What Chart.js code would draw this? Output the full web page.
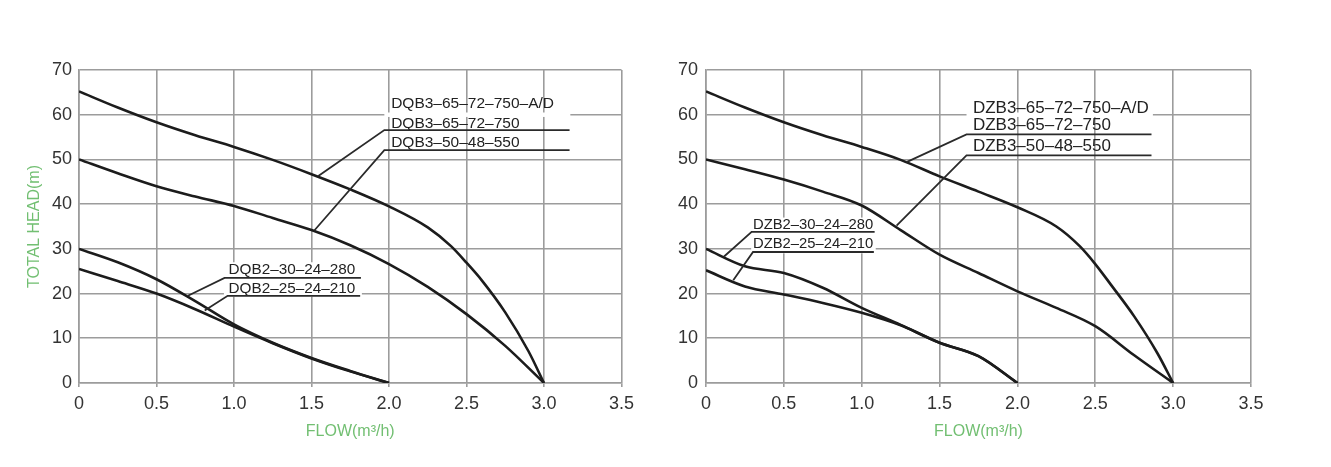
<!DOCTYPE html>
<html>
<head>
<meta charset="utf-8">
<script src="https://cdn.jsdelivr.net/npm/chart.js@4.4.1/dist/chart.umd.min.js"></script>
<style>
  html, body { margin: 0; padding: 0; background: #fff; }
  #wrap { position: relative; width: 1331px; height: 467px; overflow: hidden; }
  .box { position: absolute; top: 0; height: 467px; }
</style>
</head>
<body>
<div id="wrap">
  <div class="box" style="left:0;width:640px"><canvas id="leftChart" width="640" height="467"></canvas></div>
  <div class="box" style="left:640px;width:691px"><canvas id="rightChart" width="691" height="467"></canvas></div>
</div>
<script>
// axis ticks
var flowTicks = ['0', '0.5', '1.0', '1.5', '2.0', '2.5', '3.0', '3.5'];
var headTicks = ['0', '10', '20', '30', '40', '50', '60', '70'];

// left chart (DQB)
var flowBig = [0, 0.25, 0.5, 0.75, 1.0, 1.25, 1.5, 1.75, 2.0, 2.25, 2.4, 2.5, 2.6, 2.75, 2.9, 3.0];
var dqb3_65_72_750 = [65.2, 61.6, 58.3, 55.4, 52.8, 49.9, 46.7, 43.3, 39.5, 34.8, 30.6, 26.9, 22.9, 15.8, 7.1, 0];
var flowMid = [0, 0.25, 0.5, 0.75, 1.0, 1.25, 1.5, 1.75, 2.0, 2.25, 2.5, 2.75, 3.0];
var dqb3_50_48_550 = [50, 46.9, 44, 41.7, 39.6, 36.9, 34.2, 30.8, 26.6, 21.5, 15.4, 8.3, 0];
var flowSmallL = [0, 0.25, 0.5, 0.75, 1.0, 1.25, 1.5, 1.75, 2.0];
var dqb2_30_24_280 = [30, 27, 23.2, 18.3, 13.1, 9.0, 5.6, 2.7, 0];
var dqb2_25_24_210 = [25.5, 22.8, 20, 16.5, 12.6, 8.9, 5.5, 2.6, 0];

// right chart (DZB)
var dzb3_65_72_750 = [65.2, 61.6, 58.3, 55.4, 52.8, 49.9, 46.2, 42.8, 39.3, 35.0, 30.6, 26.6, 22, 14.9, 6.6, 0];
var dzb3_50_48_550 = [50, 47.8, 45.5, 42.8, 39.7, 34.2, 28.7, 24.6, 20.5, 16.8, 12.7, 6.2, 0];
var flowSmallR = [0, 0.25, 0.5, 0.75, 1.0, 1.25, 1.5, 1.75, 2.0];
var dzb2_30_24_280 = [30, 26.1, 24.6, 21.3, 16.8, 13, 9, 6, 0];
var dzb2_25_24_210 = [25.2, 21.6, 19.8, 17.9, 15.7, 12.9, 9, 6, 0];

var FONT = 'Arial, "Liberation Sans", sans-serif';
var GRID = '#9c9c9c';
var GREEN = '#72bf72';
var INK = '#1c1c1c';

function pts(xs, ys) {
  return xs.map(function (v, i) { return { x: v, y: ys[i] }; });
}

// labels with underline + leader line to the curve
function notesPlugin(notes) {
  return {
    id: 'notes',
    beforeDatasetsDraw: function (chart) {
      var ctx = chart.ctx, sx = chart.scales.x, sy = chart.scales.y;
      ctx.save();
      ctx.fillStyle = '#fff';
      notes.forEach(function (n) {
        if (!n.mask) return;
        var x1 = sx.getPixelForValue(n.mask[0]), x2 = sx.getPixelForValue(n.mask[1]);
        var y1 = sy.getPixelForValue(n.mask[3]), y2 = sy.getPixelForValue(n.mask[2]);
        ctx.fillRect(x1, y1, x2 - x1, y2 - y1);
      });
      ctx.restore();
    },
    afterDatasetsDraw: function (chart) {
      var ctx = chart.ctx, sx = chart.scales.x, sy = chart.scales.y;
      ctx.save();
      notes.forEach(function (n) {
        ctx.font = n.size + 'px ' + FONT;
        ctx.fillStyle = '#222';
        ctx.textAlign = 'left';
        ctx.textBaseline = 'alphabetic';
        ctx.fillText(n.text, sx.getPixelForValue(n.at[0]), sy.getPixelForValue(n.at[1]));
        if (n.under) {
          var ux1 = sx.getPixelForValue(n.under[0]), ux2 = sx.getPixelForValue(n.under[1]);
          var uy = sy.getPixelForValue(n.under[2]);
          ctx.strokeStyle = '#2a2a2a';
          ctx.lineWidth = 1.8;
          ctx.beginPath();
          ctx.moveTo(ux2, uy);
          ctx.lineTo(ux1, uy);
          ctx.lineTo(sx.getPixelForValue(n.lead[0]), sy.getPixelForValue(n.lead[1]));
          ctx.stroke();
        }
      });
      ctx.restore();
    }
  };
}

function makeChart(id, series, notes, cfg) {
  var tickFont = { family: FONT, size: 18 };
  new Chart(document.getElementById(id), {
    type: 'line',
    data: {
      datasets: series.map(function (s) {
        return {
          data: pts(s[0], s[1]),
          borderColor: INK,
          borderWidth: 2.6,
          pointRadius: 0,
          fill: false,
          cubicInterpolationMode: 'monotone'
        };
      })
    },
    options: {
      responsive: false,
      animation: false,
      devicePixelRatio: 1,
      layout: { padding: { top: 70, right: cfg.padRight, bottom: 26, left: 0 } },
      plugins: { legend: { display: false }, tooltip: { enabled: false } },
      scales: {
        x: {
          type: 'linear', min: 0, max: 3.5,
          ticks: {
            stepSize: 0.5, color: '#333', font: tickFont, padding: 6, maxRotation: 0,
            callback: function (v, i) { return flowTicks[i]; }
          },
          grid: { color: GRID, lineWidth: 1.6, tickLength: 4 },
          border: { color: GRID, width: 1.6 },
          title: { display: true, text: 'FLOW(m³/h)', color: GREEN, font: { family: FONT, size: 16 }, padding: 0 },
          afterFit: function (s) { s.height = 58; }
        },
        y: {
          type: 'linear', min: 0, max: 70,
          ticks: {
            stepSize: 10, color: '#333', font: tickFont, padding: cfg.yPad,
            callback: function (v, i) { return headTicks[i]; }
          },
          grid: { color: GRID, lineWidth: 1.6, drawTicks: false },
          border: { color: GRID, width: 1.6 },
          title: { display: cfg.yTitle, text: 'TOTAL HEAD(m)', color: GREEN, font: { family: FONT, size: 16 }, padding: { top: 25.4, bottom: 0 } },
          afterFit: function (s) { s.width = cfg.yWidth; }
        }
      }
    },
    plugins: [notesPlugin(notes)]
  });
}

makeChart('leftChart', [
  [flowBig, dqb3_65_72_750],
  [flowMid, dqb3_50_48_550],
  [flowSmallL, dqb2_30_24_280],
  [flowSmallL, dqb2_25_24_210]
], [
  { text: 'DQB3–65–72–750–A/D', size: 15.5, at: [2.014, 61.43], mask: [1.97, 3.17, 59.5, 60.5] },
  { text: 'DQB3–65–72–750', size: 15.5, at: [2.014, 57.09], under: [1.97, 3.165, 56.57], lead: [1.544, 46.3] },
  { text: 'DQB3–50–48–550', size: 15.5, at: [2.014, 52.83], under: [1.97, 3.165, 52.1], lead: [1.518, 34.1] },
  { text: 'DQB2–30–24–280', size: 15.3, at: [0.965, 24.3], under: [0.939, 1.819, 23.5], lead: [0.703, 19.5], mask: [0.935, 1.825, 19.3, 27] },
  { text: 'DQB2–25–24–210', size: 15.3, at: [0.965, 20.1], under: [0.959, 1.814, 19.5], lead: [0.811, 16.2] }
], { padRight: 17, yWidth: 79, yPad: 7, yTitle: true });

makeChart('rightChart', [
  [flowBig, dzb3_65_72_750],
  [flowMid, dzb3_50_48_550],
  [flowSmallR, dzb2_30_24_280],
  [flowSmallR, dzb2_25_24_210]
], [
  { text: 'DZB3–65–72–750–A/D', size: 17, at: [1.714, 60.3], mask: [1.673, 2.87, 59.5, 60.5] },
  { text: 'DZB3–65–72–750', size: 17, at: [1.714, 56.57], under: [1.673, 2.861, 55.6], lead: [1.288, 49.4] },
  { text: 'DZB3–50–48–550', size: 17, at: [1.714, 51.87], under: [1.673, 2.861, 50.9], lead: [1.224, 35.2] },
  { text: 'DZB2–30–24–280', size: 14.8, at: [0.302, 34.4], under: [0.293, 1.083, 33.8], lead: [0.116, 28.3] },
  { text: 'DZB2–25–24–210', size: 14.8, at: [0.302, 30.2], under: [0.302, 1.078, 29.3], lead: [0.175, 23.0], mask: [0.29, 1.09, 29.0, 37.0] }
], { padRight: 80, yWidth: 66, yPad: 8, yTitle: false });
</script>
</body>
</html>
